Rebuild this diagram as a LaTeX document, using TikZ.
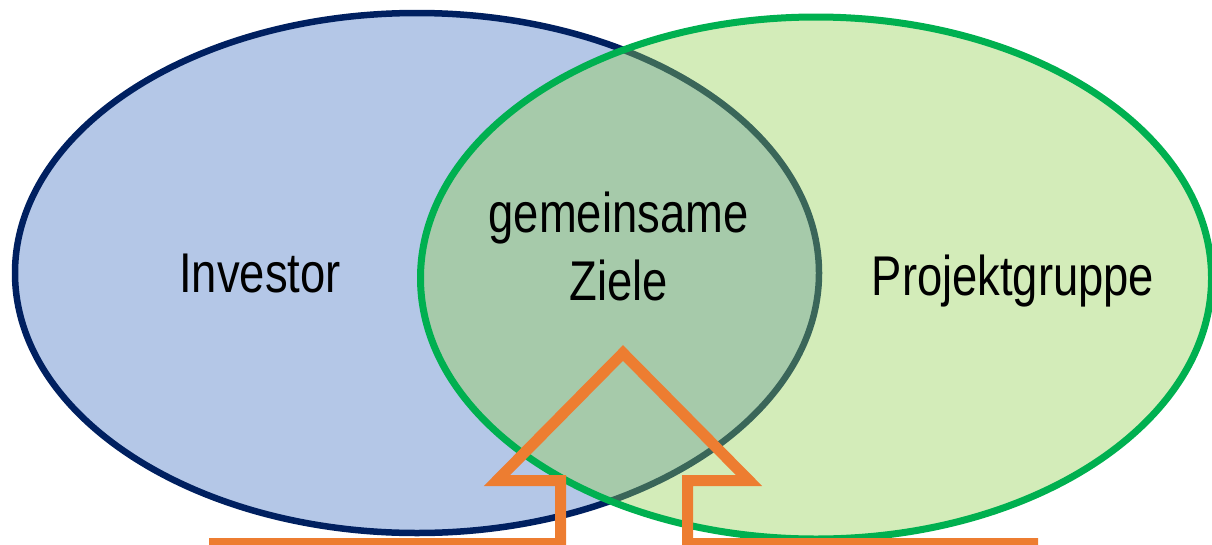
\documentclass[tikz,border=0pt]{standalone}
\usepackage{fontspec}
\setmainfont{Liberation Sans}
\definecolor{investorfill}{HTML}{B4C7E7}
\definecolor{investorline}{HTML}{002060}
\definecolor{groupfill}{HTML}{92D050}
\definecolor{groupline}{HTML}{00B050}
\definecolor{arroworange}{HTML}{ED7D31}
\tikzset{
  label text/.style={font=\fontsize{56}{68}\selectfont, text=black, inner sep=0pt,
    anchor=base, xscale=0.81, transform shape},
  party/.style={line width=6.5pt},
  outline arrow/.style={draw=arroworange, line width=11pt, line join=miter, miter limit=10}
}
\begin{document}
\begin{tikzpicture}[x=1pt, y=-1pt]
  \useasboundingbox (0,0) rectangle (1212,544);
  \clip (0,0) rectangle (1212,544);

  % the two parties
  \draw[party, draw=investorline, fill=investorfill]
    (417,273) ellipse [x radius=402pt, y radius=260pt];
  \draw[party, line width=7pt, draw=groupline, fill=groupfill, fill opacity=0.4]
    (816,278) ellipse [x radius=395.5pt, y radius=261pt];

  % labels
  \node[label text] (investor) at (260,292) {Investor};
  \node[label text] (goals1) at (618.5,232) {gemeinsame};
  \node[label text] (goals2) at (618.5,300) {Ziele};
  \node[label text] (group) at (1013,295) {Projektgruppe};

  % open arrow rising into the shared area
  \coordinate (baseL) at (209,543.5);
  \coordinate (shaftLb) at (560.5,543.5);
  \coordinate (shaftLt) at (560.5,480.5);
  \coordinate (headL) at (497,480.5);
  \coordinate (tip) at (623,353);
  \coordinate (headR) at (749,480.5);
  \coordinate (shaftRt) at (687.5,480.5);
  \coordinate (shaftRb) at (687.5,543.5);
  \coordinate (baseR) at (1038,543.5);
  \draw[outline arrow] (baseL) -- (shaftLb) -- (shaftLt) -- (headL) -- (tip)
    -- (headR) -- (shaftRt) -- (shaftRb) -- (baseR);
\end{tikzpicture}
\end{document}
